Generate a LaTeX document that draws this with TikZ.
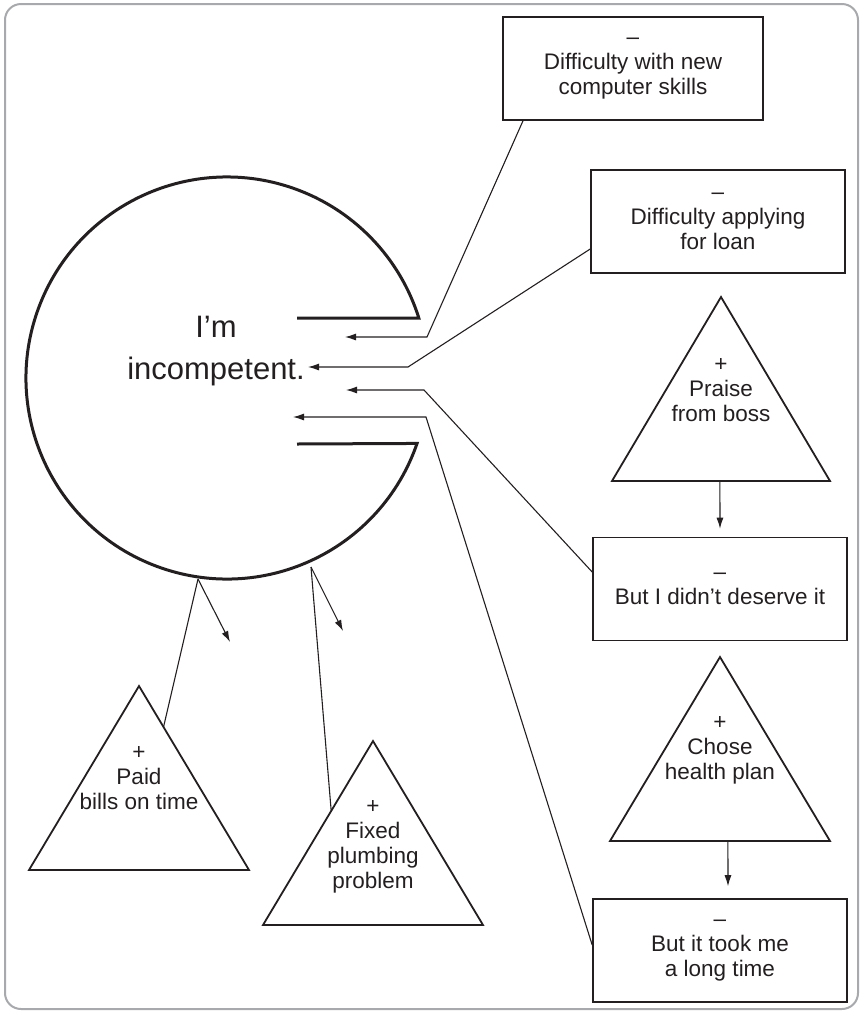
\documentclass[tikz,border=0pt]{standalone}
\usepackage{fontspec}
\setmainfont{Liberation Sans}
\usetikzlibrary{arrows.meta,calc}
\definecolor{ink}{HTML}{231F20}
\definecolor{framegray}{HTML}{A7A9AC}
\begin{document}
\begin{tikzpicture}[x=1pt,y=1pt,
  box/.style={draw=ink, line width=1.6pt, minimum width=254pt, minimum height=103pt, inner sep=0pt, align=center, font=\fontsize{22.5}{25}\selectfont, text=ink},
  tri/.style={draw=ink, line width=1.8pt, line join=miter},
  ttext/.style={align=center, font=\fontsize{22.5}{25}\selectfont, text=ink, inner sep=0pt},
  conn/.style={draw=ink, line width=1.1pt},
  arr/.style={conn, -{Latex[length=11pt,width=7pt]}},
]
\useasboundingbox (0,0) rectangle (863,-1013);
\draw[rounded corners=16pt, line width=2pt, draw=framegray] (5,-4) rectangle (858,-1009);

% central pac-man circle
\coordinate (C) at (227,-378);
\node[font=\fontsize{31}{42}\selectfont, align=center, text=ink, inner sep=0pt] (self) at (216,-351) {I’m\\incompetent.};
\draw[line width=3pt, ink] (297,-444) -- ($(C)+(-19:201)$) arc[start angle=-19, end angle=-342.65, radius=201] -- (297,-318);

% boxes
\node[box, minimum width=260pt] (b1) at (633,-68.5) {–\\Difficulty with new\\computer skills};
\node[box] (b2) at (718,-221.5) {–\\Difficulty applying\\for loan};
\node[box] (b3) at (720,-589) {–\\But I didn’t deserve it};
\node[box] (b4) at (720,-950.5) {–\\But it took me\\a long time};

% triangles
\coordinate (p1) at (721,-297); \coordinate (p1l) at (612,-481); \coordinate (p1r) at (830,-481);
\draw[tri] (p1) -- (p1l) -- (p1r) -- cycle;
\node[ttext] (t1) at (721,-390) {+\\Praise\\from boss};

\coordinate (p2) at (720,-657); \coordinate (p2l) at (610,-841); \coordinate (p2r) at (830,-841);
\draw[tri] (p2) -- (p2l) -- (p2r) -- cycle;
\node[ttext] (t2) at (720,-750) {+\\Chose\\health plan};

\coordinate (p3) at (139,-686); \coordinate (p3l) at (29,-870); \coordinate (p3r) at (249,-870);
\draw[tri] (p3) -- (p3l) -- (p3r) -- cycle;
\node[ttext] (t3) at (139,-778) {+\\Paid\\bills on time};

\coordinate (p4) at (373,-741); \coordinate (p4l) at (263,-925); \coordinate (p4r) at (483,-925);
\draw[tri] (p4) -- (p4l) -- (p4r) -- cycle;
\node[ttext] (t4) at (373,-846.5) {+\\Fixed\\plumbing\\problem};

% arrows between triangles and boxes
\draw[arr, shorten >=8pt] ($(p1l)!0.495!(p1r)$) -- (b3.north);
\draw[arr, shorten >=12pt] ($(p2l)!0.536!(p2r)$) -- ([xshift=8pt]b4.north);

% connectors into the circle opening
\coordinate (k1) at (427,-337); \coordinate (a1) at (345,-337);
\coordinate (k2) at (408,-367); \coordinate (a2) at (308,-367);
\coordinate (k3) at (424,-390); \coordinate (a3) at (346,-390);
\coordinate (k4) at (426,-417); \coordinate (a4) at (293,-417);
\draw[arr] ([xshift=-110pt]b1.south) -- (k1) -- (a1);
\draw[arr] ([yshift=-27.5pt]b2.west) -- (k2) -- (a2);
\draw[arr] ([yshift=17pt]b3.west) -- (k3) -- (a3);
\draw[arr] ([yshift=5.5pt]b4.west) -- (k4) -- (a4);

% connectors from the circle bottom
\coordinate (s1) at (198,-579); \coordinate (e1) at (230,-642);
\coordinate (s2) at (311,-567); \coordinate (e2) at (343,-631);
\coordinate (g2) at (322,-700);
\draw[conn] (s1) -- ($(p3)!0.223!(p3r)$);
\draw[arr] (s1) -- (e1);
\draw[conn] (s2) -- (intersection of s2--g2 and p4--p4l);
\draw[arr] (s2) -- (e2);
\end{tikzpicture}
\end{document}
